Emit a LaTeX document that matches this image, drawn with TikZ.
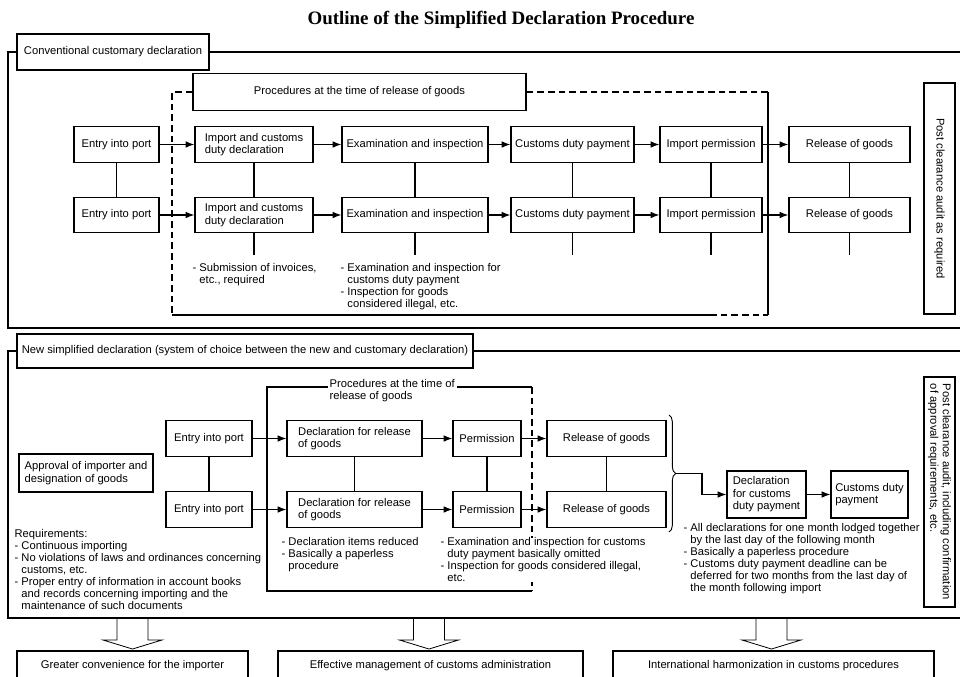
\documentclass[tikz,border=0pt]{standalone}
\usepackage{fontspec}
\setmainfont{Liberation Serif}
\setsansfont{Liberation Sans}
\usetikzlibrary{positioning, arrows.meta, decorations.pathreplacing}

\tikzset{
  procbox/.style={draw, line width=0.95pt, fill=white, inner sep=2pt, minimum height=26.5pt, align=left, font=\sffamily\fontsize{8.4}{9.4}\selectfont},
  note/.style={anchor=north west, inner sep=0pt, align=left, font=\sffamily\fontsize{8.4}{9}\selectfont},
  arr/.style={-{Latex[length=6.5pt,width=5pt]}, line width=0.95pt},
  dashline/.style={dash pattern=on 5pt off 3pt},
}

\begin{document}
\begin{tikzpicture}[x=0.75pt, y=-0.75pt, line width=0.95pt]
  \clip (0,0) rectangle (960,676);

  % Title
  \node[font=\bfseries\fontsize{14.2}{16}\selectfont] (title) at (501,20) {Outline of the Simplified Declaration Procedure};

  % Conventional declaration frame
  \node[procbox, minimum width=144pt, minimum height=27pt] (conv) at (113,52) {Conventional customary declaration};
  \draw (conv.west) -- (8,52) -- (8,328) -- (970,328);
  \draw (conv.east) -- (970,52);

  % Procedures at the time of release (dashed frame)
  \node[procbox, minimum width=249.75pt, minimum height=27.75pt] (proc1) at (359.5,92) {Procedures at the time of release of goods};
  \draw[dashline] (proc1.west) -- (172,92) -- (172,315);
  \draw (172,315) -- (710,315);
  \draw[dashline] (710,315) -- (768,315);
  \draw (768,315) -- (768,92);
  \draw[dashline] (768,92) -- (proc1.east);

  % Two rows of steps
  \foreach \r/\cy in {1/144.5, 2/215} {
    \foreach \n/\cx/\w/\t in {ent/116.5/63.75/{Entry into port}, imp/254/88.5/{Import and customs\\duty declaration}, exa/415/109.5/{Examination and inspection}, cdp/572.5/92.25/{Customs duty payment}, ipm/711/76.5/{Import permission}, rel/849.5/90.75/{Release of goods}} {
      \node[procbox, minimum width=\w pt] (\n\r) at (\cx,\cy) {\t};
    }
    \foreach \a/\b in {ent/imp, imp/exa, exa/cdp, cdp/ipm, ipm/rel} {
      \draw[arr] (\a\r.east) -- (\b\r.west);
    }
  }
  \foreach \a in {ent, imp, exa, cdp, ipm, rel} {
    \draw (\a1.south) -- (\a2.north);
  }
  \foreach \a in {imp, exa, cdp, ipm, rel} {
    \draw (\a2.south) -- ++(0,22);
  }

  % Post clearance (conventional)
  \node[procbox, rotate=-90, minimum width=173.25pt, minimum height=23.25pt] (postA) at (939.5,198.5) {Post clearance audit as required};

  % Notes under the conventional flow
  \node[note] (invc) at (192,263) {- Submission of invoices,\\\phantom{- }etc., required};
  \node[note] (exnt) at (340,263) {- Examination and inspection for\\\phantom{- }customs duty payment\\- Inspection for goods\\\phantom{- }considered illegal, etc.};

  % New simplified declaration frame
  \node[procbox, minimum width=342pt, minimum height=25.5pt] (newd) at (245,351) {New simplified declaration (system of choice between the new and customary declaration)};
  \draw (newd.west) -- (8,351) -- (8,618) -- (970,618);
  \draw (newd.east) -- (970,351);

  % Procedures frame (new)
  \draw (532,387) -- (267,387) -- (267,591) -- (532,591);
  \draw[dashline] (532,387) -- (532,591);
  \node[note, fill=white, inner sep=1.5pt] (proc2) at (327,377) {Procedures at the time of\\release of goods};

  % Approval
  \node[procbox, minimum width=100.5pt, minimum height=28.5pt] (appr) at (86,473) {Approval of importer and\\designation of goods};

  \foreach \r/\cy in {1/438.5, 2/509.5} {
    \foreach \n/\cx/\w/\t in {entB/209/64.5/{Entry into port}, decB/354.5/101.25/{Declaration for release\\of goods}, perB/487/51/{Permission}, relB/606.5/89.25/{Release of goods}} {
      \node[procbox, minimum width=\w pt] (\n\r) at (\cx,\cy) {\t};
    }
    \foreach \a/\b in {entB/decB, decB/perB, perB/relB} {
      \draw[arr] (\a\r.east) -- (\b\r.west);
    }
  }
  \foreach \a in {entB, decB, perB, relB} {
    \draw (\a1.south) -- (\a2.north);
  }

  % Brace and monthly declaration
  \draw[line width=0.7pt, decorate, decoration={brace, amplitude=5pt}] (669,415) -- (669,532);
  \coordinate (brTip) at (676,473.5);
  \node[procbox, minimum width=59.25pt, minimum height=35.25pt] (dcd) at (766.5,494.5) {Declaration\\for customs\\duty payment};
  \node[procbox, minimum width=57.75pt, minimum height=35.25pt] (cdpB) at (869.5,494.5) {Customs duty\\payment};
  \draw[arr] (brTip) -- (702,473.5) |- (dcd.west);
  \draw[arr] (dcd) -- (cdpB);

  % Post clearance (new)
  \node[procbox, rotate=-90, minimum width=172.5pt, minimum height=23.25pt] (postB) at (939.5,492) {Post clearance audit, including confirmation\\of approval requirements, etc.};

  % Notes under the new flow
  \node[note] (reqs) at (14,529) {Requirements:\\- Continuous importing\\- No violations of laws and ordinances concerning\\\phantom{- }customs, etc.\\- Proper entry of information in account books\\\phantom{- }and records concerning importing and the\\\phantom{- }maintenance of such documents};
  \node[note] (dcnt) at (281,537) {- Declaration items reduced\\- Basically a paperless\\\phantom{- }procedure};
  \node[note, fill=white] (pmnt) at (440,537) {- Examination and inspection for customs\\\phantom{- }duty payment basically omitted\\- Inspection for goods considered illegal,\\\phantom{- }etc.};
  \node[note] (mnnt) at (683,523) {- All declarations for one month lodged together\\\phantom{- }by the last day of the following month\\- Basically a paperless procedure\\- Customs duty payment deadline can be\\\phantom{- }deferred for two months from the last day of\\\phantom{- }the month following import};

  % Goals
  \node[procbox, minimum width=173.25pt, minimum height=22.5pt] (goal1) at (132.5,666) {Greater convenience for the importer};
  \node[procbox, minimum width=228.75pt, minimum height=22.5pt] (goal2) at (430.5,666) {Effective management of customs administration};
  \node[procbox, minimum width=240.75pt, minimum height=22.5pt] (goal3) at (773.5,666) {International harmonization in customs procedures};

  % Hollow arrows down to the goals
  \foreach \c in {132.5, 429, 771.5} {
    \draw[line width=0.6pt] ({\c-15.5},618) -- ({\c-15.5},640) -- ({\c-29.5},640) -- (\c,649) -- ({\c+29.5},640) -- ({\c+15.5},640) -- ({\c+15.5},618);
  }
\end{tikzpicture}
\end{document}
